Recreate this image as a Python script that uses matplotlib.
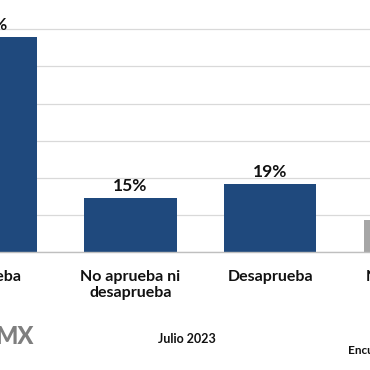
import matplotlib

matplotlib.use("Agg")

import matplotlib.pyplot as plt
import numpy as np

# Survey answers (the chart is cropped: first and last bars are only partly visible)
CATEGORIES = ["Aprueba", "No aprueba ni\ndesaprueba", "Desaprueba", "No sabe/No\ncontesta"]
VALUES = [60, 15, 19, 9]
BAR_COLORS = ["#1f497d", "#1f497d", "#1f497d", "#a6a6a6"]
GRID_STEP = 10.37  # gridline spacing in percentage points

plt.rcParams["font.family"] = ["Lato", "DejaVu Sans"]

W = H = 370.0
fig = plt.figure(figsize=(3.7, 3.7), dpi=100)

# axes reaches past the figure edges so the outer bars are cut like the source
ax = fig.add_axes([-79.05 / W, 118 / H, 558.8 / W, 252 / H])

x = np.arange(len(CATEGORIES))
bars = ax.bar(x, VALUES, width=0.66, color=BAR_COLORS, zorder=3)

ax.set_xlim(-0.5, len(CATEGORIES) - 0.5)
ax.set_ylim(0, 252 / 3.58)
ax.set_yticks(np.arange(0, 65, GRID_STEP))
ax.yaxis.grid(True, color="#d9d9d9", lw=0.9, zorder=0)
ax.set_yticklabels([])
ax.tick_params(axis="both", length=0)

for side in ("top", "left", "right"):
    ax.spines[side].set_visible(False)
ax.spines["bottom"].set_color("#bfbfbf")
ax.spines["bottom"].set_linewidth(1.0)
ax.spines["bottom"].set_zorder(4)

ax.set_xticks(x)
ax.set_xticklabels(CATEGORIES, fontsize=11.5, fontweight="bold", color="#111111",
                   linespacing=1.2)
ax.tick_params(axis="x", pad=13)

for rect, val in zip(bars, VALUES):
    ax.annotate(f"{val}%", (rect.get_x() + rect.get_width() / 2, rect.get_height()),
                xytext=(0, 3), textcoords="offset points", ha="center", va="bottom",
                fontsize=12.5, fontweight="bold", color="#111111")

# footer texts
fig.text(34 / W, 1 - 337 / H, "MX", ha="right", va="center", fontsize=17,
         fontweight="black", color="#7f7f7f")
fig.text(187 / W, 1 - 339 / H, "Julio 2023", ha="center", va="center",
         fontsize=9, fontweight="bold", color="#111111")
fig.text(348 / W, 1 - 351 / H, "Encuesta", ha="left", va="center",
         fontsize=8.5, fontweight="bold", color="#111111")

fig.savefig("out.png", dpi=100)
